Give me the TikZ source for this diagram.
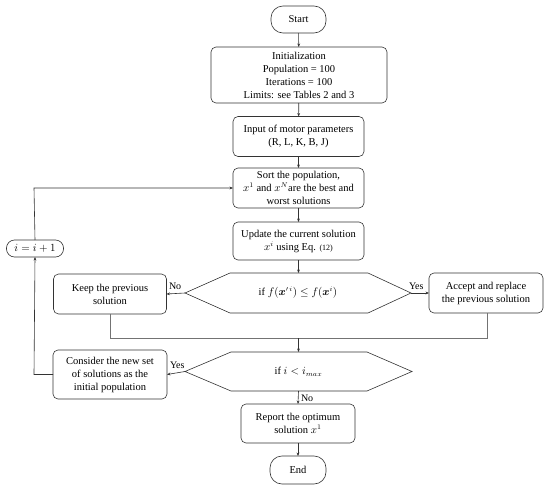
\documentclass[tikz,border=0pt]{standalone}
\usepackage{amsmath}
\usepackage{fontspec}
\setmainfont{Liberation Serif}
\usetikzlibrary{arrows.meta}
\begin{document}
\begin{tikzpicture}[x=1pt,y=-1pt,
  every node/.style={font=\fontsize{10.5}{13}\selectfont, outer sep=0pt, inner sep=1pt},
  ln/.style={draw=black!80, line width=0.6pt},
  arr/.style={ln, -{Stealth[length=3.5pt,width=2.8pt]}},
  proc/.style={ln, rounded corners=5pt, align=center},
  term/.style={ln, rounded corners=12pt, align=center},
  hexnode/.style={align=center},
  lbl/.style={font=\fontsize{10}{12}\selectfont, inner sep=0pt}
]
\useasboundingbox (0,0) rectangle (550,490);

\node[term, minimum width=55pt, minimum height=27pt] (start) at (298.5,19.5) {Start};
\node[proc, minimum width=176pt, minimum height=56pt] (init) at (299,75)
  {Initialization\\Population = 100\\Iterations = 100\\Limits: see Tables 2 and 3};
\node[proc, minimum width=131pt, minimum height=40pt] (input) at (298.5,136.5)
  {Input of motor parameters\\(R, L, K, B, J)};
\node[proc, minimum width=131pt, minimum height=40pt] (sort) at (298.5,188)
  {Sort the population,\\$x^1$ and $x^N$are the best and\\worst solutions};
\node[proc, minimum width=131pt, minimum height=38pt] (update) at (298.5,241)
  {Update the current solution\\$x^i$ using Eq. {\footnotesize(12)}};
\node[hexnode, minimum width=226pt, minimum height=40pt] (d1) at (298,293)
  {if $f(\boldsymbol{x}'^{\,i}) \leq f(\boldsymbol{x}^{i})$};
\draw[ln] (d1.west) -- ([xshift=45pt]d1.north west) -- ([xshift=-43pt]d1.north east)
  -- (d1.east) -- ([xshift=-43pt]d1.south east) -- ([xshift=45pt]d1.south west) -- cycle;
\node[proc, minimum width=113pt, minimum height=40pt] (keep) at (110,294)
  {Keep the previous\\solution};
\node[proc, minimum width=114pt, minimum height=40pt] (accept) at (486,293)
  {Accept and replace\\the previous solution};
\node[hexnode, minimum width=227pt, minimum height=39pt] (d2) at (298.5,371.5)
  {if $i < i_{max}$};
\draw[ln] (d2.west) -- ([xshift=46pt]d2.north west) -- ([xshift=-45pt]d2.north east)
  -- (d2.east) -- ([xshift=-45pt]d2.south east) -- ([xshift=46pt]d2.south west) -- cycle;
\node[proc, minimum width=114pt, minimum height=49pt] (consider) at (110,374.5)
  {Consider the new set\\of solutions as the\\initial population};
\node[proc, minimum width=114pt, minimum height=39pt] (report) at (298,423.5)
  {Report the optimum\\solution $x^1$};
\node[term, minimum width=56pt, minimum height=28pt] (end) at (298,470) {End};
\node[term, rounded corners=8pt, minimum width=57pt, minimum height=17pt] (inc) at (35,248.5)
  {$i=i+1$};

\coordinate (m) at (298.5,338);
\coordinate (kc) at (110,338);
\coordinate (ac) at (487,338);
\coordinate (lb) at (34,374.5);
\coordinate (lt) at (34,188);

\draw[arr] (start) -- (init);
\draw[arr] (init) -- (input);
\draw[arr] (input) -- (sort);
\draw[arr] (sort) -- (update);
\draw[arr] (update.south) -- (update.south |- d1.north);
\draw[arr] (d1.west) -- (keep.east);
\draw[arr] (d1.east) -- (accept.west);
\draw[ln, draw=black!55] (keep.south) -- (kc) -- (ac) -- (accept.south -| ac);
\draw[arr] (m) -- (d2.north);
\draw[arr] (d2.west) -- (consider.east);
\draw[arr] (d2.south) -- (report.north);
\draw[arr] (report) -- (end);
\draw[arr] (consider.west) -- (lb) -- (inc.south);
\draw[arr] (inc.north) -- (lt) -- (sort.west);

\node[lbl, anchor=south west] (no1) at (169,290) {No};
\node[lbl, anchor=south west] (yes1) at (409,290) {Yes};
\node[lbl, anchor=south west] (yes2) at (170,369) {Yes};
\node[lbl, anchor=west] (no2) at (301,398) {No};
\end{tikzpicture}
\end{document}
